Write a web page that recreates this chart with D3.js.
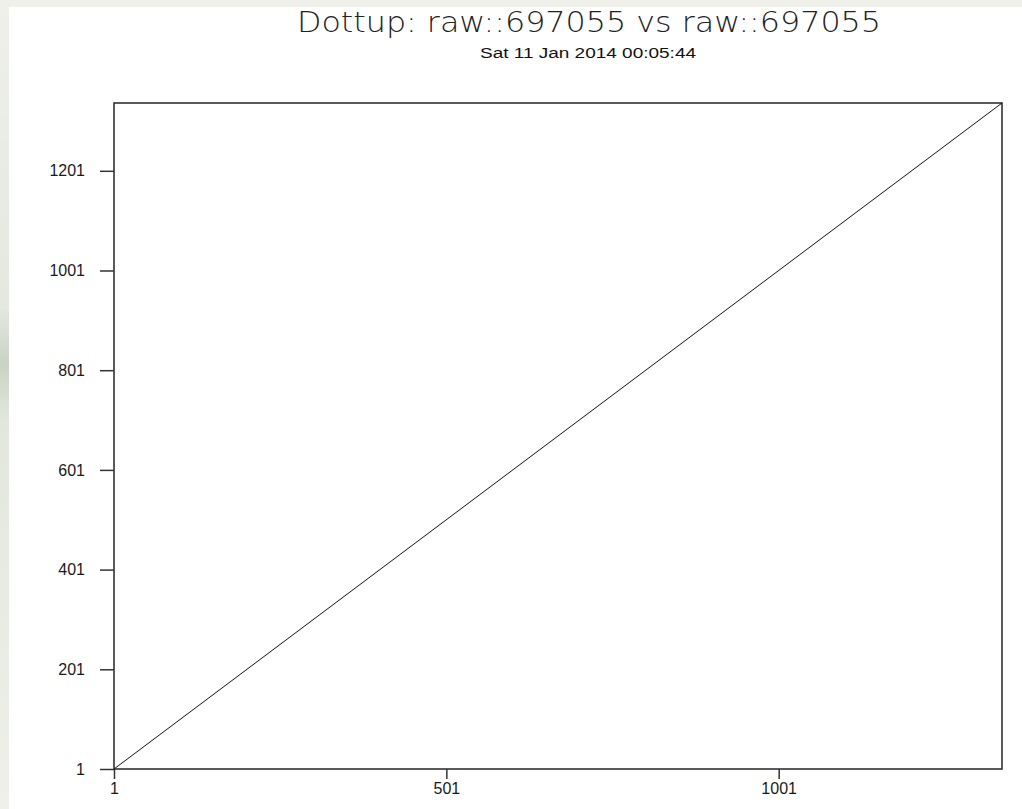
<!DOCTYPE html>
<html>
<head>
<meta charset="utf-8">
<script src="https://cdn.jsdelivr.net/npm/d3@7"></script>
<style>
  body { margin: 0; background: #eef0e9; }
  svg { display: block; }
</style>
</head>
<body>
<div id="plot"></div>
<script>
// dottup of the sequence against itself
var seqName = "raw::697055";
var seqLength = 1337;
var matchStart = [1, 1];
var matchEnd = [1337, 1337];
var xTicks = [1, 501, 1001];
var yTicks = [1, 201, 401, 601, 801, 1001, 1201];
var titleText = "Dottup: " + seqName + " vs " + seqName;
var dateText = "Sat 11 Jan 2014 00:05:44";

var svgWidth = 1022;
var svgHeight = 809;

var margin = { top: 103, right: 20, bottom: 40, left: 114 };
var width = 1002 - margin.left;
var height = 769 - margin.top;

var svg = d3.select("#plot")
  .append("svg")
  .attr("width", svgWidth)
  .attr("height", svgHeight);

// page background: white panel on a pale grey-green page
var bg = svg.append("defs").append("linearGradient")
  .attr("id", "edge")
  .attr("x1", 0).attr("x2", 0).attr("y1", 0).attr("y2", 1);
bg.append("stop").attr("offset", "0%").attr("stop-color", "#eef0e9");
bg.append("stop").attr("offset", "38%").attr("stop-color", "#e4e8df");
bg.append("stop").attr("offset", "45%").attr("stop-color", "#c9d3c4");
bg.append("stop").attr("offset", "52%").attr("stop-color", "#e2e7dc");
bg.append("stop").attr("offset", "100%").attr("stop-color", "#eef0e9");

svg.append("rect")
  .attr("x", 0).attr("y", 0)
  .attr("width", 9).attr("height", svgHeight)
  .attr("fill", "url(#edge)");

svg.append("rect")
  .attr("x", 9).attr("y", 7)
  .attr("width", svgWidth - 9).attr("height", svgHeight - 7)
  .attr("fill", "#ffffff");

var chartGroup = svg.append("g")
  .attr("transform", `translate(${margin.left}, ${margin.top})`);

var xScale = d3.scaleLinear()
  .domain([1, seqLength])
  .range([0, width]);

var yScale = d3.scaleLinear()
  .domain([1, seqLength])
  .range([height, 0]);

var bottomAxis = d3.axisBottom(xScale)
  .tickValues(xTicks)
  .tickFormat(d3.format("d"))
  .tickSizeInner(10)
  .tickSizeOuter(0)
  .tickPadding(4);

var leftAxis = d3.axisLeft(yScale)
  .tickValues(yTicks)
  .tickFormat(d3.format("d"))
  .tickSizeInner(14)
  .tickSizeOuter(0)
  .tickPadding(15);

var xAxis = chartGroup.append("g")
  .attr("transform", `translate(0, ${height})`)
  .call(bottomAxis);

var yAxis = chartGroup.append("g")
  .call(leftAxis);

[xAxis, yAxis].forEach(function(ax) {
  ax.select(".domain").remove();
  ax.selectAll("line")
    .attr("stroke", "#333")
    .attr("stroke-width", 1.5);
  ax.selectAll("text")
    .attr("fill", "#1a1a1a")
    .style("font-family", "'Liberation Sans', Arial, sans-serif")
    .style("font-size", "16px");
});

// frame
chartGroup.append("rect")
  .attr("x", 0)
  .attr("y", 0)
  .attr("width", width)
  .attr("height", height)
  .attr("fill", "none")
  .attr("stroke", "#333")
  .attr("stroke-width", 1.6);

// the match line
var line = d3.line()
  .x(d => xScale(d[0]))
  .y(d => yScale(d[1]));

chartGroup.append("path")
  .datum([matchStart, matchEnd])
  .attr("d", line)
  .attr("fill", "none")
  .attr("stroke", "#111")
  .attr("stroke-width", 1);

// titles
svg.append("text")
  .attr("x", 589)
  .attr("y", 32)
  .attr("text-anchor", "middle")
  .attr("textLength", 584)
  .attr("lengthAdjust", "spacingAndGlyphs")
  .attr("fill", "#222")
  .style("font-family", "'DejaVu Sans', sans-serif")
  .style("font-weight", 200)
  .style("font-size", "28px")
  .text(titleText);

svg.append("text")
  .attr("x", 588)
  .attr("y", 58)
  .attr("text-anchor", "middle")
  .attr("textLength", 216)
  .attr("lengthAdjust", "spacingAndGlyphs")
  .attr("fill", "#111")
  .style("font-family", "'Liberation Sans', Arial, sans-serif")
  .style("font-size", "14px")
  .text(dateText);
</script>
</body>
</html>
